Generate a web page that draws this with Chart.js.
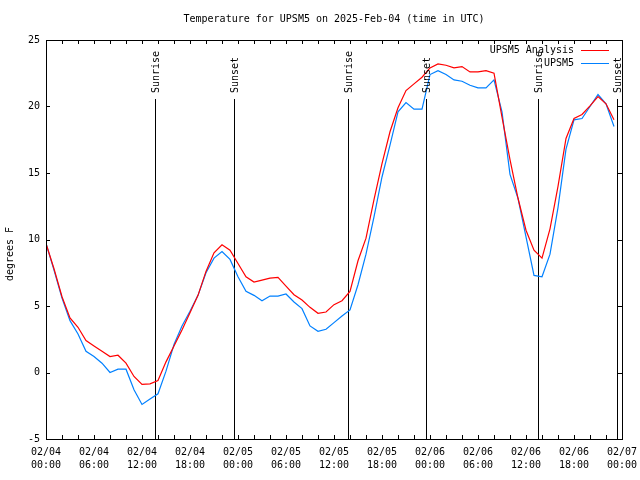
<!DOCTYPE html>
<html>
<head>
<meta charset="utf-8">
<script src="https://cdn.jsdelivr.net/npm/chart.js@4"></script>
<style>
  html, body { margin: 0; padding: 0; background: #fff; }
</style>
</head>
<body>
<canvas id="myChart" width="640" height="480"></canvas>
<script>
// hours since 2025-02-04 00:00 UTC
const hours = [0,1,2,3,4,5,6,7,8,9,10,11,12,13,14,15,16,17,18,19,20,21,22,23,
  24,25,26,27,28,29,30,31,32,33,34,35,36,37,38,39,40,41,42,43,44,45,46,47,
  48,49,50,51,52,53,54,55,56,57,58,59,60,61,62,63,64,65,66,67,68,69,70,71];

const analysisTemps = [9.7,7.8,5.7,4.1,3.4,2.4,2.0,1.6,1.2,1.3,0.7,-0.3,-0.9,-0.85,-0.6,0.8,2.0,3.2,4.5,5.8,7.6,9.0,9.6,9.2,
  8.2,7.2,6.8,6.95,7.1,7.15,6.5,5.85,5.45,4.9,4.45,4.55,5.1,5.4,6.1,8.4,10.1,13.0,15.7,18.1,19.9,21.2,21.7,22.2,
  22.9,23.2,23.1,22.9,23.0,22.6,22.6,22.7,22.5,19.2,16.0,13.1,10.7,9.2,8.6,10.8,14.0,17.6,19.1,19.4,20.05,20.75,20.2,19.0];

const stationTemps = [9.7,7.7,5.6,3.9,2.9,1.6,1.2,0.7,0.0,0.25,0.25,-1.3,-2.4,-2.0,-1.6,0.1,2.1,3.5,4.6,5.8,7.5,8.6,9.1,8.5,
  7.2,6.1,5.8,5.4,5.75,5.75,5.9,5.3,4.8,3.5,3.1,3.25,3.75,4.25,4.7,6.6,8.9,11.7,14.7,17.1,19.6,20.3,19.8,19.8,
  22.4,22.7,22.4,22.0,21.9,21.6,21.4,21.4,22.0,19.6,14.9,13.1,10.2,7.3,7.2,8.9,12.4,16.8,19.0,19.1,20.0,20.9,20.2,18.5];

const dateLabels = ['02/04','02/04','02/04','02/04','02/05','02/05','02/05','02/05','02/06','02/06','02/06','02/06','02/07'];
const timeLabels = ['00:00','06:00','12:00','18:00','00:00','06:00','12:00','18:00','00:00','06:00','12:00','18:00','00:00'];

const eventHours = [13.6, 23.5, 37.7, 47.45, 61.55, 71.4];
const eventNames = ['Sunrise','Sunset','Sunrise','Sunset','Sunrise','Sunset'];

const FONT = '10px "DejaVu Sans Mono"';

const decorations = {
  id: 'decorations',
  beforeDatasetsDraw(chart) {
    const {ctx, chartArea: a, scales: {x, y}} = chart;
    ctx.save();
    ctx.strokeStyle = '#000';
    ctx.lineWidth = 1;
    ctx.beginPath();
    const topPx = Math.round(y.getPixelForValue(20.55));
    eventHours.forEach(h => {
      const px = Math.round(x.getPixelForValue(h)) + 0.5;
      ctx.moveTo(px, a.bottom);
      ctx.lineTo(px, topPx);
    });
    ctx.stroke();
    ctx.restore();
  },
  afterDraw(chart) {
    const {ctx, chartArea: a, scales: {x, y}} = chart;
    ctx.save();
    ctx.strokeStyle = '#000';
    ctx.lineWidth = 1;
    ctx.strokeRect(a.left + 0.5, a.top + 0.5, a.right - a.left, a.bottom - a.top);

    // inward tick marks on all four sides
    ctx.beginPath();
    x.ticks.forEach(t => {
      const px = Math.round(x.getPixelForValue(t.value)) + 0.5;
      ctx.moveTo(px, a.bottom); ctx.lineTo(px, a.bottom - 4);
      ctx.moveTo(px, a.top); ctx.lineTo(px, a.top + 4);
    });
    y.ticks.forEach(t => {
      const py = Math.round(y.getPixelForValue(t.value)) + 0.5;
      ctx.moveTo(a.left, py); ctx.lineTo(a.left + 4, py);
      ctx.moveTo(a.right, py); ctx.lineTo(a.right - 4, py);
    });
    ctx.stroke();

    ctx.fillStyle = '#000';
    ctx.font = FONT;

    // title
    ctx.textAlign = 'center';
    ctx.textBaseline = 'middle';
    ctx.fillText('Temperature for UPSM5 on 2025-Feb-04 (time in UTC)', (a.left + a.right) / 2, 19);

    // y axis title
    ctx.save();
    ctx.translate(10, 254);
    ctx.rotate(-Math.PI / 2);
    ctx.fillText('degrees F', 0, 0);
    ctx.restore();

    // sunrise / sunset labels
    const labelBase = Math.round(y.getPixelForValue(20.55)) - 6;
    eventHours.forEach((h, i) => {
      const px = Math.round(x.getPixelForValue(h)) + 1;
      ctx.save();
      ctx.translate(px, labelBase);
      ctx.rotate(-Math.PI / 2);
      ctx.textAlign = 'left';
      ctx.fillText(eventNames[i], 0, 0);
      ctx.restore();
    });

    // legend: text then line sample
    chart.data.datasets.forEach((ds, i) => {
      const ly = a.top + 10 + i * 13;
      ctx.textAlign = 'right';
      ctx.fillStyle = '#000';
      ctx.fillText(ds.label, a.right - 48, ly);
      ctx.strokeStyle = ds.borderColor;
      ctx.beginPath();
      ctx.moveTo(a.right - 41, ly + 0.5);
      ctx.lineTo(a.right - 13, ly + 0.5);
      ctx.stroke();
    });
    ctx.restore();
  }
};

const data = {
  datasets: [{
    label: 'UPSM5 Analysis',
    borderColor: 'rgb(255, 0, 0)',
    data: hours.map((h, i) => ({x: h, y: analysisTemps[i]})),
  }, {
    label: 'UPSM5',
    borderColor: 'rgb(0, 128, 255)',
    data: hours.map((h, i) => ({x: h, y: stationTemps[i]})),
  }]
};

const config = {
  type: 'line',
  data: data,
  options: {
    responsive: false,
    animation: false,
    layout: { padding: { top: 40, right: 18, left: 0, bottom: 0 } },
    elements: {
      line: { borderWidth: 1.2, tension: 0, fill: false },
      point: { radius: 0 }
    },
    plugins: {
      legend: { display: false },
      title: { display: false },
      tooltip: { enabled: false }
    },
    scales: {
      x: {
        type: 'linear',
        min: 0,
        max: 72,
        afterFit: s => { s.height = 41; s.paddingLeft = 0; s.paddingRight = 0; },
        grid: { display: false, drawTicks: false },
        border: { display: false },
        ticks: {
          stepSize: 2,
          autoSkip: false,
          maxRotation: 0,
          padding: 7,
          color: '#000',
          font: { family: 'DejaVu Sans Mono', size: 10, lineHeight: 1.3 },
          callback: v => v % 6 === 0 ? [dateLabels[v / 6], timeLabels[v / 6]] : ''
        }
      },
      y: {
        min: -5,
        max: 25,
        afterFit: s => { s.width = 46; s.paddingTop = 0; s.paddingBottom = 0; },
        grid: { display: false, drawTicks: false },
        border: { display: false },
        ticks: {
          stepSize: 5,
          padding: 6,
          color: '#000',
          font: { family: 'DejaVu Sans Mono', size: 10 }
        }
      }
    }
  },
  plugins: [decorations]
};

const myChart = new Chart(document.getElementById('myChart'), config);
</script>
</body>
</html>
